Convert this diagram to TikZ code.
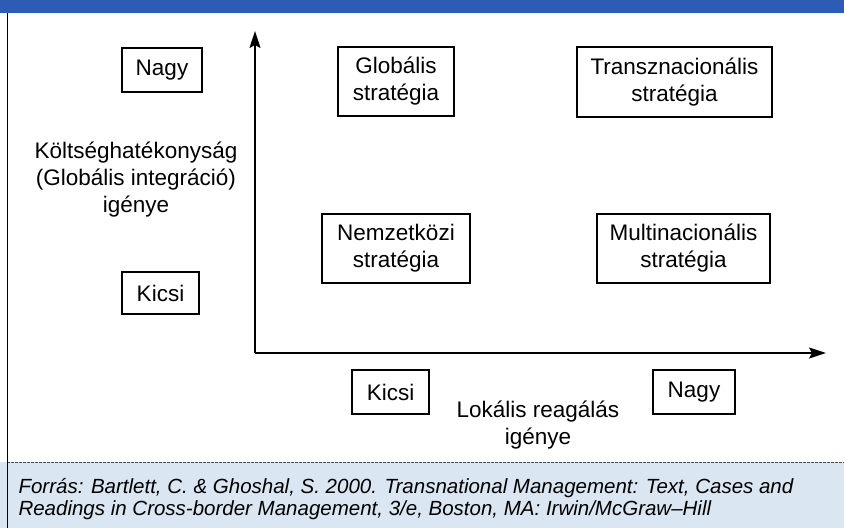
\documentclass[tikz,border=0pt]{standalone}
\usepackage{fontspec}
\setmainfont{Liberation Sans}
\usetikzlibrary{positioning}
\usetikzlibrary{arrows.meta}

\definecolor{bandblue}{HTML}{2D5CB4}
\definecolor{footblue}{HTML}{DAE7F3}

\tikzset{
	box/.style = {draw = black, line width = 1.3pt, align = center, inner sep = 0pt, font = \fontsize{22.5}{27}\selectfont},
	axislabel/.style = {align = center, font = \fontsize{22.5}{27}\selectfont},
	axis/.style = {black, line width = 1.6pt, -{Stealth[length = 17pt, width = 11pt, inset = 3pt]}}
}

\begin{document}
\begin{tikzpicture}[x = 1pt, y = -1pt]
	\useasboundingbox (0, 0) rectangle (844, 528);
	\fill [bandblue] (0, 0) rectangle (844, 13);
	\fill [footblue] (0, 462) rectangle (844, 528);
	\draw [gray!60!black, line width = 1pt, dash pattern = on 3pt off 1pt] (7, 462) -- (844, 462);
	\draw [black, line width = 1pt] (7, 13) -- (7, 528);
	\coordinate (origin) at (255, 353);
	\coordinate (ytip) at (255, 31);
	\coordinate (xtip) at (826, 353);
	\draw [axis] (origin) -- (ytip);
	\draw [axis] (origin) -- (xtip);
	\node (nagyy) at (162, 70) [box, minimum width = 80pt, minimum height = 44pt] {Nagy};
	\node (kicsiy) at (160.5, 293) [box, minimum width = 77pt, minimum height = 42pt] {Kicsi};
	\node (ylabel) at (136, 180) [axislabel] {Költséghatékonyság\\(Globális integráció)\\igénye};
	\node (globalis) at (396, 81.5) [box, minimum width = 116pt, minimum height = 69pt] {Globális\\stratégia};
	\node (transz) at (674.5, 82) [box, minimum width = 195pt, minimum height = 70pt] {Transznacionális\\stratégia};
	\node (nemzet) at (396, 248.5) [box, minimum width = 148pt, minimum height = 69pt] {Nemzetközi\\stratégia};
	\node (multi) at (683.5, 248.5) [box, minimum width = 173pt, minimum height = 69pt] {Multinacionális\\stratégia};
	\node (kicsix) at (390.5, 392) [box, minimum width = 77pt, minimum height = 44pt] {Kicsi};
	\node (nagyx) at (694, 392) [box, minimum width = 82pt, minimum height = 44pt] {Nagy};
	\node (xlabel) at (538, 425.5) [axislabel] {Lokális reagálás\\igénye};
	\node (forras) at (15, 499) [anchor = west, align = left, font = \fontsize{20.5}{21.5}\selectfont\itshape] {Forrás: Bartlett, C. \& Ghoshal, S. 2000. Transnational Management: Text, Cases and\\Readings in Cross-border Management, 3/e, Boston, MA: Irwin/McGraw--Hill};
\end{tikzpicture}
\end{document}
